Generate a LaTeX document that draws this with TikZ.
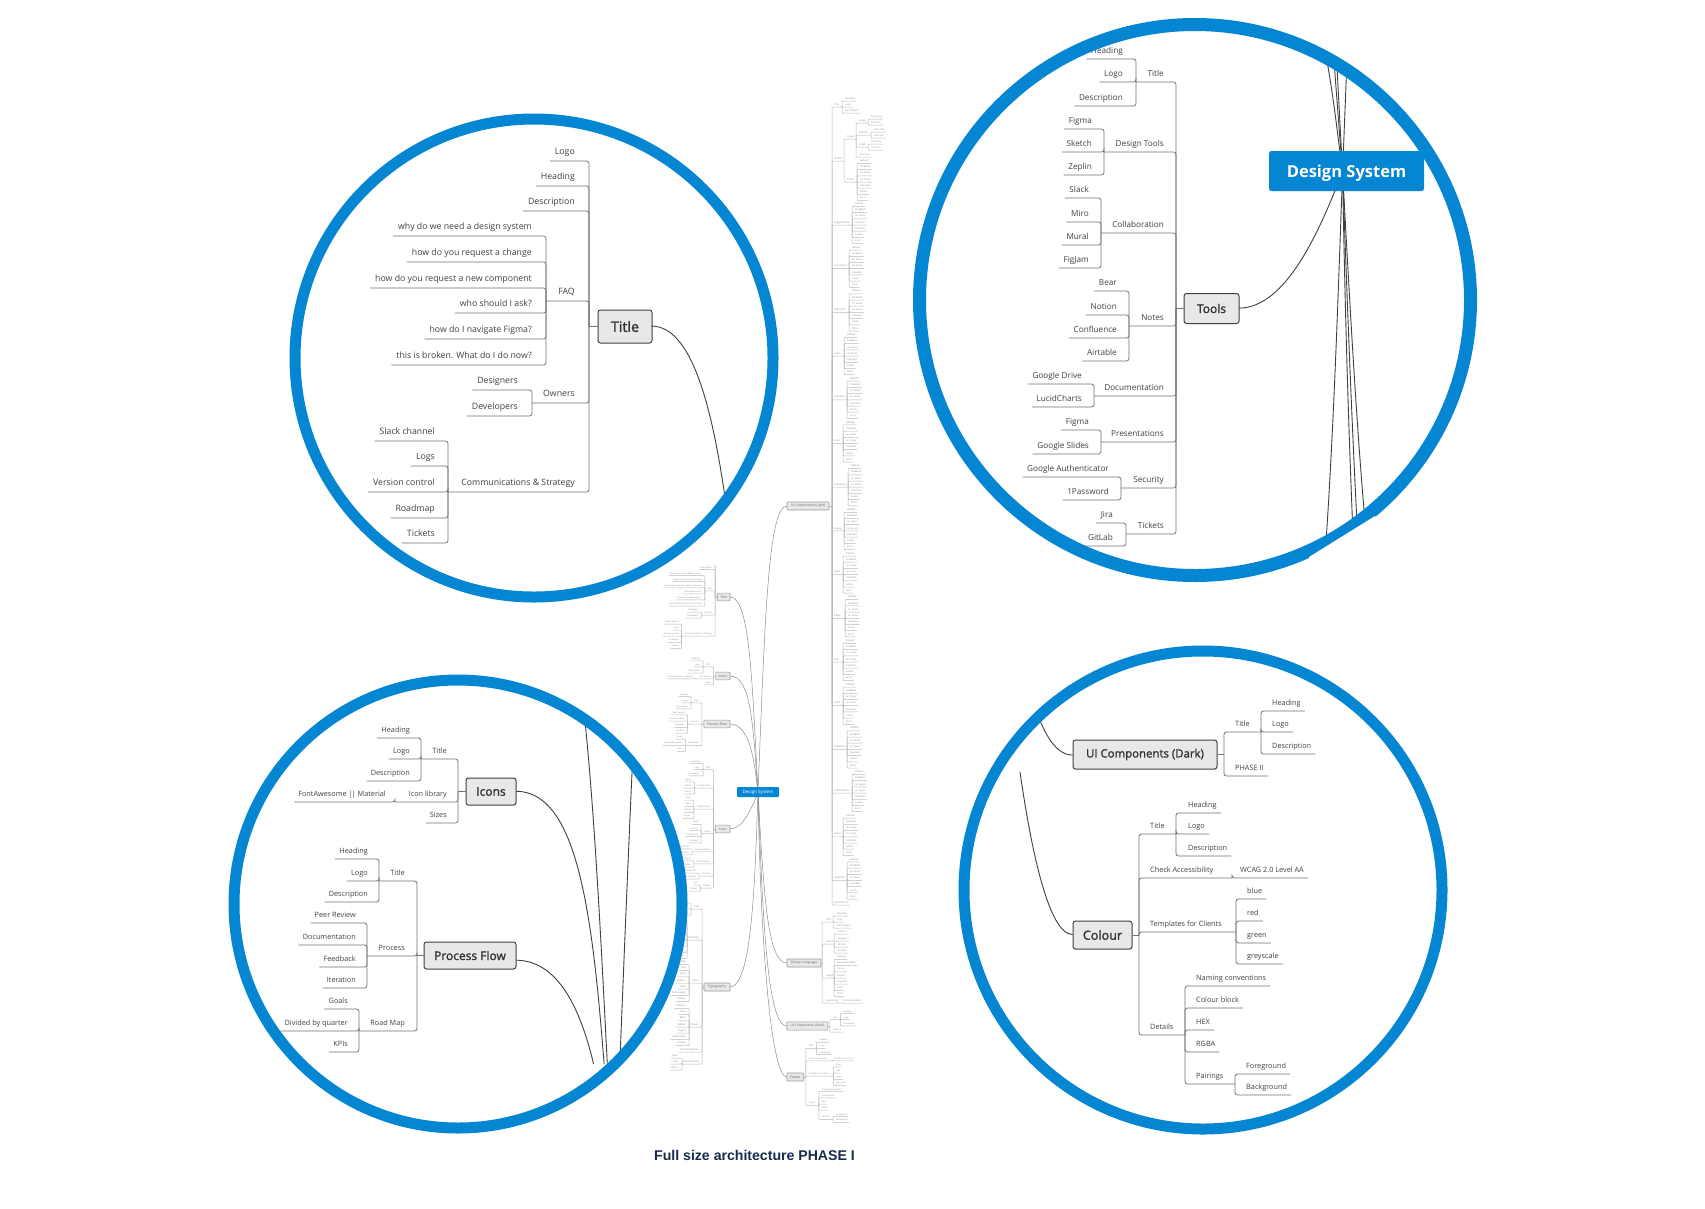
\documentclass[tikz,border=0pt]{standalone}
\usepackage{fontspec}
\setmainfont{Open Sans}
\newfontfamily\limbfont[FakeBold=1.5]{Open Sans}
\newfontfamily\capfont{Liberation Sans}
\definecolor{ringblue}{HTML}{0586D3}
\definecolor{inkgray}{HTML}{404040}
\definecolor{capnavy}{HTML}{172B4D}
\def\fs{8.6}
\tikzset{
	twigtext/.style={font=\fontsize{\fs}{\fs}\selectfont,text=inkgray,inner xsep=.55*\fs pt,inner ysep=.45*\fs pt,execute at begin node=\vphantom{Ag}},
	twigline/.style={draw=black!55,line width=.8pt,rounded corners=2.5pt},
	limbbox/.style={draw=black!75,fill=black!9,line width=1pt,rounded corners=2.5pt,text=black!80,inner sep=0pt,font=\limbfont\fontsize{12}{12}\selectfont},
	limb/.style={draw=black!75,line width=.9pt},
	ring/.style={draw=ringblue},
	hubbox/.style={fill=ringblue,rounded corners=2.5pt,text=white,inner sep=0pt,font=\fontsize{16.5}{16.5}\selectfont\bfseries},
	minilook/.style={
		twigtext/.append style={text=black!45},
		twigline/.style={draw=black!28,line width=.5pt,rounded corners=.7pt},
		limbbox/.append style={draw=black!40,line width=.6pt,rounded corners=.7pt,text=black!60},
		limb/.style={draw=black!45,line width=.5pt}},
}
% left side
\newcommand{\twig}[5]{\node[twigtext,anchor=south east] (#1) at ({#3+.55*\fs},#4) {#5};
	\draw[twigline] (#1.south west) -| (#2);}
\newcommand{\fork}[6]{\node[twigtext,anchor=south east] (#1) at ({#4+.55*\fs},#5) {#6};
	\coordinate (#1-j) at (#3,#5);
	\draw[twigline] (#1-j) -| (#2);}
% right side
\newcommand{\twag}[5]{\node[twigtext,anchor=south west] (#1) at ({#3-.55*\fs},#4) {#5};
	\draw[twigline] (#1.south east) -| (#2);}
\newcommand{\forkr}[6]{\node[twigtext,anchor=south west] (#1) at ({#4-.55*\fs},#5) {#6};
	\coordinate (#1-j) at (#3,#5);
	\draw[twigline] (#1-j) -| (#2);}
\newcommand{\hubfan}{
	\coordinate (hub) at (758,792);
	\coordinate (endtitle) at (730,597);
	\coordinate (endicons) at (730,676);
	\coordinate (endflow) at (730,724);
	\coordinate (endtools) at (730,829);
	\coordinate (endtypo) at (730,987);
	\coordinate (endlight) at (787,506);
	\coordinate (endlang) at (787,963);
	\coordinate (enddark) at (787,1026);
	\coordinate (endcolour) at (787,1077);
	\draw[limb] (hub) .. controls (752,680) and (750,597) .. (endtitle);
	\draw[limb] (hub) .. controls (753,730) and (752,676) .. (endicons);
	\draw[limb] (hub) .. controls (755,770) and (752,724) .. (endflow);
	\draw[limb] (hub) .. controls (752,808) and (743,829) .. (endtools);
	\draw[limb] (hub) .. controls (755,880) and (752,987) .. (endtypo);
	\draw[limb] (hub) .. controls (765,620) and (768,506) .. (endlight);
	\draw[limb] (hub) .. controls (764,900) and (768,963) .. (endlang);
	\draw[limb] (hub) .. controls (763,930) and (768,1026) .. (enddark);
	\draw[limb] (hub) .. controls (761,960) and (772,1077) .. (endcolour);
}
\newcommand{\treetitle}{
	\def\fs{8.75}
	\node[limbbox,minimum width=54,minimum height=33,font=\limbfont\fontsize{14.3}{14.3}\selectfont] (title) at (625,326.5) {Title};
	\coordinate (title-j) at (589,326.5);
	\draw[twigline] (title.west) -- (title-j);
	\twig{tlogo}{title-j}{575}{161}{Logo}
	\twig{thead}{title-j}{575}{186}{Heading}
	\twig{tdesc}{title-j}{575}{211}{Description}
	\fork{tfaq}{title-j}{546}{575}{301}{FAQ}
	\twig{tfaqa}{tfaq-j}{532}{236}{why do we need a design system}
	\twig{tfaqb}{tfaq-j}{532}{262}{how do you request a change}
	\twig{tfaqc}{tfaq-j}{532}{288}{how do you request a new component}
	\twig{tfaqd}{tfaq-j}{532}{313}{who should I ask?}
	\twig{tfaqe}{tfaq-j}{532}{339}{how do I navigate Figma?}
	\twig{tfaqf}{tfaq-j}{532}{365}{this is broken. What do I do now?}
	\fork{town}{title-j}{532}{575}{403}{Owners}
	\twig{towna}{town-j}{518}{390}{Designers}
	\twig{townb}{town-j}{518}{416}{Developers}
	\fork{tcom}{title-j}{448}{575}{492}{Communications \& Strategy}
	\twig{tcoma}{tcom-j}{435}{441}{Slack channel}
	\twig{tcomb}{tcom-j}{435}{466}{Logs}
	\twig{tcomc}{tcom-j}{435}{492}{Version control}
	\twig{tcomd}{tcom-j}{435}{518}{Roadmap}
	\twig{tcome}{tcom-j}{435}{543}{Tickets}
}
\newcommand{\treetools}{
	\def\fs{8.2}
	\node[limbbox,minimum width=55,minimum height=30] (tools) at (1211.5,308.5) {Tools};
	\coordinate (tools-j) at (1176,308.5);
	\draw[twigline] (tools.west) -- (tools-j);
	\fork{ott}{tools-j}{1136}{1164}{82}{Title}
	\twig{otta}{ott-j}{1123}{59}{Heading}
	\twig{ottb}{ott-j}{1123}{82}{Logo}
	\twig{ottc}{ott-j}{1123}{106}{Description}
	\fork{odt}{tools-j}{1104}{1164}{152}{Design Tools}
	\twig{odta}{odt-j}{1092}{129}{Figma}
	\twig{odtb}{odt-j}{1092}{152}{Sketch}
	\twig{odtc}{odt-j}{1092}{175}{Zeplin}
	\fork{ocol}{tools-j}{1101}{1164}{233}{Collaboration}
	\twig{ocola}{ocol-j}{1089}{198}{Slack}
	\twig{ocolb}{ocol-j}{1089}{222}{Miro}
	\twig{ocolc}{ocol-j}{1089}{245}{Mural}
	\twig{ocold}{ocol-j}{1089}{268}{FigJam}
	\fork{onot}{tools-j}{1129}{1164}{326}{Notes}
	\twig{onota}{onot-j}{1117}{291}{Bear}
	\twig{onotb}{onot-j}{1117}{315}{Notion}
	\twig{onotc}{onot-j}{1117}{338}{Confluence}
	\twig{onotd}{onot-j}{1117}{361}{Airtable}
	\fork{odoc}{tools-j}{1094}{1164}{396}{Documentation}
	\twig{odoca}{odoc-j}{1082}{384}{Google Drive}
	\twig{odocb}{odoc-j}{1082}{407}{LucidCharts}
	\fork{opre}{tools-j}{1101}{1164}{442}{Presentations}
	\twig{oprea}{opre-j}{1089}{430}{Figma}
	\twig{opreb}{opre-j}{1089}{454}{Google Slides}
	\fork{osec}{tools-j}{1121}{1164}{488}{Security}
	\twig{oseca}{osec-j}{1109}{477}{Google Authenticator}
	\twig{osecb}{osec-j}{1109}{500}{1Password}
	\fork{otik}{tools-j}{1126}{1164}{534}{Tickets}
	\twig{otika}{otik-j}{1113}{523}{Jira}
	\twig{otikb}{otik-j}{1113}{546}{GitLab}
}
\newcommand{\treeicons}{
	\def\fs{7.3}
	\node[limbbox,minimum width=50,minimum height=27] (icons) at (491,791.5) {Icons};
	\coordinate (icons-j) at (458,791.5);
	\draw[twigline] (icons.west) -- (icons-j);
	\fork{itt}{icons-j}{421}{447}{759}{Title}
	\twig{itta}{itt-j}{410}{738}{Heading}
	\twig{ittb}{itt-j}{410}{759}{Logo}
	\twig{ittc}{itt-j}{410}{781}{Description}
	\fork{ilib}{icons-j}{395}{447}{802}{Icon library}
	\twig{iliba}{ilib-j}{386}{802}{FontAwesome |\kern-.8pt| Material}
	\twig{isiz}{icons-j}{447}{823}{Sizes}
}
\newcommand{\treeflow}{
	\def\fs{7.3}
	\node[limbbox,minimum width=92,minimum height=27] (flow) at (470,955.5) {Process Flow};
	\coordinate (flow-j) at (417,955.5);
	\draw[twigline] (flow.west) -- (flow-j);
	\fork{ftt}{flow-j}{379}{405}{881}{Title}
	\twig{ftta}{ftt-j}{368}{859}{Heading}
	\twig{fttb}{ftt-j}{368}{881}{Logo}
	\twig{fttc}{ftt-j}{368}{902}{Description}
	\fork{fpro}{flow-j}{367}{405}{956}{Process}
	\twig{fproa}{fpro-j}{356}{923}{Peer Review}
	\twig{fprob}{fpro-j}{356}{945}{Documentation}
	\twig{fproc}{fpro-j}{356}{967}{Feedback}
	\twig{fprod}{fpro-j}{356}{988}{Iteration}
	\fork{frm}{flow-j}{359}{405}{1031}{Road Map}
	\twig{frma}{frm-j}{348}{1009}{Goals}
	\twig{frmb}{frm-j}{348}{1031}{Divided by quarter}
	\twig{frmc}{frm-j}{348}{1052}{KPIs}
}
\newcommand{\treedark}{
	\def\fs{7.3}
	\node[limbbox,minimum width=144,minimum height=29,font=\limbfont\fontsize{11.4}{11.4}\selectfont] (dark) at (1145,754.5) {UI Components (Dark)};
	\coordinate (dark-j) at (1224,754.5);
	\draw[twigline] (dark.east) -- (dark-j);
	\forkr{dtt}{dark-j}{1261}{1235}{732}{Title}
	\twag{dtta}{dtt-j}{1272}{711}{Heading}
	\twag{dttb}{dtt-j}{1272}{732}{Logo}
	\twag{dttc}{dtt-j}{1272}{754}{Description}
	\twag{dpha}{dark-j}{1235}{776}{PHASE II}
}
\newcommand{\treecolour}{
	\def\fs{7.3}
	\node[limbbox,minimum width=59,minimum height=28,font=\limbfont\fontsize{12.6}{12.6}\selectfont] (colour) at (1102.5,935) {Colour};
	\coordinate (colour-j) at (1139,935);
	\draw[twigline] (colour.east) -- (colour-j);
	\forkr{ctt}{colour-j}{1176}{1150}{834}{Title}
	\twag{ctta}{ctt-j}{1188}{813}{Heading}
	\twag{cttb}{ctt-j}{1188}{834}{Logo}
	\twag{cttc}{ctt-j}{1188}{856}{Description}
	\forkr{cacc}{colour-j}{1232}{1150}{878}{Check Accessibility}
	\twag{cacca}{cacc-j}{1240}{878}{WCAG 2.0 Level AA}
	\forkr{ctpl}{colour-j}{1236}{1150}{932}{Templates for Clients}
	\twag{ctpla}{ctpl-j}{1247}{899}{blue}
	\twag{ctplb}{ctpl-j}{1247}{921}{red}
	\twag{ctplc}{ctpl-j}{1247}{943}{green}
	\twag{ctpld}{ctpl-j}{1247}{964}{greyscale}
	\forkr{cdet}{colour-j}{1185}{1150}{1035}{Details}
	\twag{cdeta}{cdet-j}{1196}{986}{Naming conventions}
	\twag{cdetb}{cdet-j}{1196}{1008}{Colour block}
	\twag{cdetc}{cdet-j}{1196}{1030}{HEX}
	\twag{cdetd}{cdet-j}{1196}{1052}{RGBA}
	\forkr{cpai}{cdet-j}{1235}{1196}{1084}{Pairings}
	\twag{cpaia}{cpai-j}{1246}{1074}{Foreground}
	\twag{cpaib}{cpai-j}{1246}{1095}{Background}
}
\begin{document}
\begin{tikzpicture}[x=1pt,y=-1pt]
	\useasboundingbox (0,0) rectangle (1705,1208);
	\begin{scope}[minilook]
		\let\limbfont\relax
		\hubfan
		\node[hubbox,minimum width=42,minimum height=10,rounded corners=.8pt,font=\fontsize{4.5}{4.5}\selectfont] (mhub) at (758,792) {Design System};
		\begin{scope}
			\clip (600,565) rectangle (760,700);
			\begin{scope}[name prefix=m-,shift={(730,597)},scale=.237,shift={(-652,-326.5)},transform shape]
				\treetitle
			\end{scope}
		\end{scope}
		\begin{scope}[name prefix=m-,shift={(730,829)},scale=.262,shift={(-1239,-308.5)},transform shape]
			\treetools
		\end{scope}
		\begin{scope}[name prefix=m-,shift={(730,676)},scale=.284,shift={(-516,-791.5)},transform shape]
			\treeicons
		\end{scope}
		\begin{scope}[name prefix=m-,shift={(730,724)},scale=.284,shift={(-516,-955.5)},transform shape]
			\treeflow
		\end{scope}
		\begin{scope}[name prefix=m-,shift={(787,1026)},scale=.284,shift={(-1073,-754.5)},transform shape]
			\treedark
		\end{scope}
		\begin{scope}[name prefix=m-,shift={(787,1077)},scale=.284,shift={(-1073,-935)},transform shape]
			\treecolour
		\end{scope}
		\def\fs{2.45}
		\node[limbbox,minimum width=42,minimum height=8,font=\fontsize{3.3}{3.3}\selectfont] (light) at (808,506) {UI Components (Light)};
		\coordinate (light-j) at (832,506);
		\draw[twigline] (light.east) -- (light-j);
		\forkr{ltt}{light-j}{842}{834}{107}{Title}
		\twag{ltta}{ltt-j}{845}{101}{Heading}
		\twag{lttb}{ltt-j}{845}{107}{Logo}
		\twag{lttc}{ltt-j}{845}{113}{Description}
		\forkr{lbtn}{light-j}{844}{834}{161}{Button}
		\forkr{ltyp}{lbtn-j}{856}{847}{139}{Types}
		\forkr{limg}{ltyp-j}{868}{859}{123}{Image}
		\twag{limga}{limg-j}{871}{119}{Text only}
		\twag{limgb}{limg-j}{871}{125}{Left icon}
		\forkr{lpos}{ltyp-j}{871}{859}{135}{Position}
		\twag{lposa}{lpos-j}{874}{132}{Icon only}
		\twag{lposb}{lpos-j}{874}{138}{Left icon}
		\forkr{lsma}{ltyp-j}{868}{859}{147}{Small}
		\twag{lsmaa}{lsma-j}{871}{144}{Text only}
		\twag{lsmab}{lsma-j}{871}{150}{Left icon}
		\twag{lico}{ltyp-j}{859}{157}{Icon only}
		\forkr{lsta}{lbtn-j}{857}{847}{182}{States}
		\foreach \st [count=\j from -3] in {Default,Disabled,on Hover,on Focus,Selected,Active,Error} {
			\pgfmathsetmacro\sy{182+6.2*\j}
			\twag{lsta\j}{lsta-j}{860}{\sy}{\st}
		}
		\foreach \nm/\bx [count=\k from 0] in {Toggle Button/852,Icon Button/849,Text Field/849,Cards/844,Checkbox/847,Links/843,Dropdown/848,Dialog/844,Input/843,Chips/845,Tabs/843,Input/843,Pagination/847,Radio Button/852,Select/843,Overflow/847} {
			\pgfmathsetmacro\gy{225+43.7*\k}
			\forkr{lgrp\k}{light-j}{\bx}{834}{\gy}{\nm}
			\foreach \st [count=\j from -3] in {Default,Disabled,on Hover,on Focus,Selected,Active,Error} {
				\pgfmathsetmacro\sy{\gy+6.2*\j}
				\twag{lst\k\j}{lgrp\k-j}{\bx+3}{\sy}{\st}
			}
		}
		\twag{lgen}{light-j}{834}{905}{Generate UI}
		\node[limbbox,minimum width=34,minimum height=8,font=\fontsize{3.3}{3.3}\selectfont] (lang) at (804,963) {Design Language};
		\coordinate (lang-j) at (822,963);
		\draw[twigline] (lang.east) -- (lang-j);
		\forkr{gtt}{lang-j}{833}{826}{922}{Title}
		\twag{gtta}{gtt-j}{837}{916}{Heading}
		\twag{gttb}{gtt-j}{837}{922}{Logo}
		\twag{gttc}{gtt-j}{837}{928}{Description}
		\forkr{gbra}{lang-j}{834}{826}{944}{Brand}
		\twag{gbraa}{gbra-j}{838}{934}{Colours}
		\twag{gbrab}{gbra-j}{838}{941}{Imagery}
		\twag{gbrac}{gbra-j}{838}{947}{Motion}
		\twag{gbrad}{gbra-j}{838}{953}{Tonality}
		\forkr{guse}{lang-j}{834}{826}{978}{Usage}
		\foreach \st [count=\j from -3] in {Overlay,Black and White,Cursor,Layout,Gradient,Grid,Print} {
			\pgfmathsetmacro\sy{978+6.2*\j}
			\twag{guse\j}{guse-j}{837}{\sy}{\st}
		}
		\forkr{ggui}{lang-j}{838}{826}{1003}{Guidelines}
		\twag{gguia}{ggui-j}{843}{1003}{Documentation}
		\node[limbbox,minimum width=26,minimum height=8,font=\fontsize{3.3}{3.3}\selectfont] (typo) at (717,987) {Typography};
		\coordinate (typo-j) at (702,987);
		\draw[twigline] (typo.west) -- (typo-j);
		\fork{ytt}{typo-j}{691}{699}{909}{Title}
		\twig{ytta}{ytt-j}{688}{903}{Heading}
		\twig{yttb}{ytt-j}{688}{909}{Logo}
		\twig{yttc}{ytt-j}{688}{915}{Description}
		\fork{yhea}{typo-j}{687}{699}{940}{Headings}
		\foreach \st [count=\j from -3] in {H1,H2,H3,H4,H5,H6,H7} {
			\pgfmathsetmacro\sy{940+6.2*\j}
			\twig{yhea\j}{yhea-j}{684}{\sy}{\st}
		}
		\fork{ytex}{typo-j}{689}{699}{983}{Styles}
		\foreach \st [count=\j from -3] in {Heading,Title,Body,Caption,Small,Subheading,Display} {
			\pgfmathsetmacro\sy{983+6.2*\j}
			\twig{ytex\j}{ytex-j}{686}{\sy}{\st}
		}
		\fork{ycol}{typo-j}{689}{699}{1027}{Colours}
		\foreach \st [count=\j from -3] in {Headline,Gray,Black,Darken,Digest,Subheading,Display} {
			\pgfmathsetmacro\sy{1027+6.2*\j}
			\twig{ycol\j}{ycol-j}{686}{\sy}{\st}
		}
		\twig{ybrk}{typo-j}{699}{1052}{Font Breakdown}
		\fork{yreq}{typo-j}{682}{699}{1064}{Requirements}
		\twig{yreqa}{yreq-j}{678}{1058}{Sans}
		\twig{yreqb}{yreq-j}{678}{1064}{Text}
		\twig{yreqc}{yreq-j}{678}{1070}{Mono}
	\end{scope}
	\fill[white] (534,358) circle (239);
	\begin{scope}
		\clip (534,358) circle (239);
		\treetitle
		\begin{scope}[shift={(652,326.5)},scale=4.2,shift={(-730,-597)}]
			\hubfan
		\end{scope}
	\end{scope}
	\draw[ring,line width=11pt] (534,358) circle (239);
	\fill[white] (1195,300) circle (275);
	\begin{scope}
		\clip (1195,300) circle (275);
		\begin{scope}[shift={(1342,171)},scale=3.69,shift={(-758,-792)}]
			\hubfan
		\end{scope}
		\treetools
		\node[hubbox,minimum width=155,minimum height=40] (hubbig) at (1346.5,171) {\rule{0pt}{17pt}Design System};
	\end{scope}
	\draw[ring,line width=13pt] (1195,300) circle (275.5);
	\fill[white] (1309,557) -- (1375,516) -- (1400,560) -- (1320,595) -- cycle;
	\fill[white] (458,904) circle (224);
	\begin{scope}
		\clip (458,904) circle (224);
		\clip (228,674) rectangle (690,1063);
		\begin{scope}[shift={(516,791.5)},scale=3.52,shift={(-730,-676)}]
			\hubfan
		\end{scope}
	\end{scope}
	\begin{scope}
		\clip (458,904) circle (224);
		\treeicons
		\treeflow
	\end{scope}
	\draw[ring,line width=11pt] (458,904) circle (224);
	\fill[white] (1203,890) circle (239);
	\begin{scope}
		\clip (1203,890) circle (239);
		\begin{scope}[shift={(1073,935)},scale=3.52,shift={(-787,-1077)}]
			\hubfan
		\end{scope}
		\fill[white] (970,650) rectangle (1035,772);
		\treedark
		\treecolour
	\end{scope}
	\draw[ring,line width=11pt] (1203,890) circle (239);
	\node[font=\capfont\fontsize{14.1}{14.1}\selectfont\bfseries,text=capnavy,inner sep=0pt] (caption) at (754.5,1155) {Full size architecture PHASE I};
\end{tikzpicture}
\end{document}
